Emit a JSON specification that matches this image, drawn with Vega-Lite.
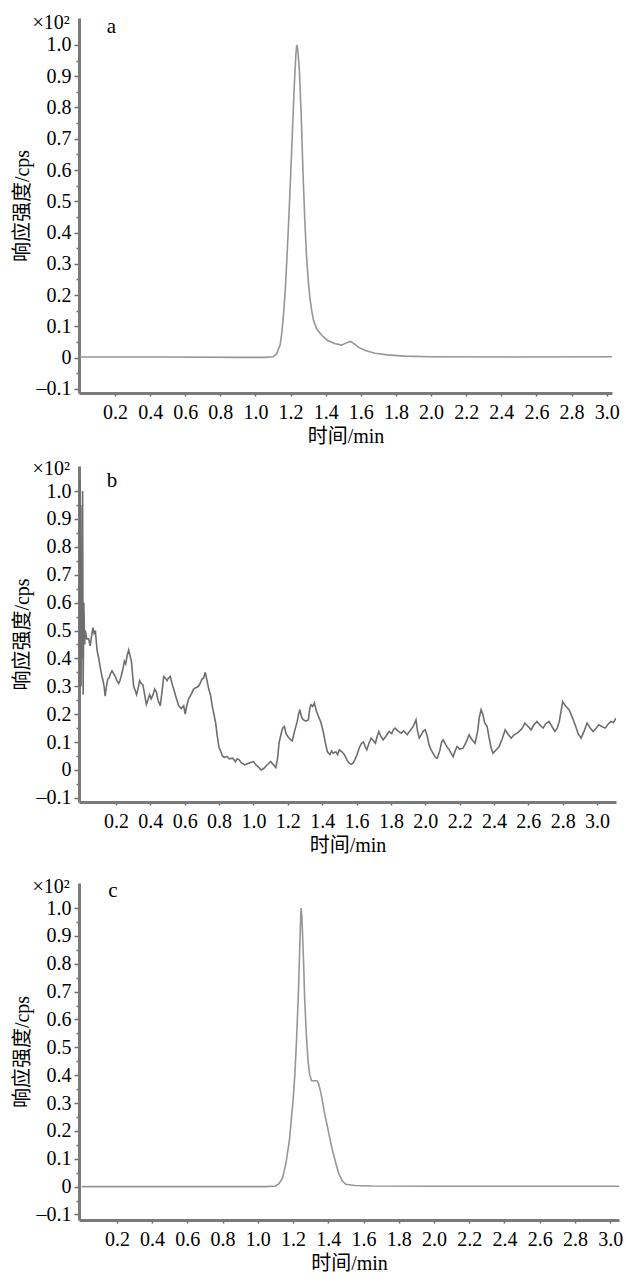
{
  "$schema": "https://vega.github.io/schema/vega-lite/v6.json",
  "padding": {"left": 12, "top": 13, "right": 0, "bottom": 0},
  "background": "white",
  "config": {
    "view": {"stroke": null},
    "axis": {
      "grid": false,
      "labelFont": "Liberation Serif",
      "labelFontSize": 20,
      "labelColor": "#000",
      "titleFont": "Liberation Serif, Noto Sans CJK SC",
      "titleFontSize": 20,
      "titleFontWeight": "normal",
      "titleColor": "#000",
      "domainColor": "#7a7a7a",
      "domainWidth": 3,
      "tickColor": "#6a6a6a",
      "tickWidth": 1.5
    },
    "axisX": {"tickSize": 3, "labelPadding": 6, "titlePadding": 4, "labelFlush": false},
    "axisY": {"labelPadding": 3, "titlePadding": 4}
  },
  "datasets": {
    "a": [
      {"t": 0, "r": 0.002}, {"t": 0.5, "r": 0.002}, {"t": 0.9, "r": 0.001}, {"t": 1.05, "r": 0.001},
      {"t": 1.1, "r": 0.003}, {"t": 1.12, "r": 0.012}, {"t": 1.14, "r": 0.04}, {"t": 1.15, "r": 0.08},
      {"t": 1.16, "r": 0.14}, {"t": 1.17, "r": 0.22}, {"t": 1.18, "r": 0.33}, {"t": 1.19, "r": 0.45},
      {"t": 1.2, "r": 0.58}, {"t": 1.21, "r": 0.72}, {"t": 1.22, "r": 0.86}, {"t": 1.23, "r": 0.97},
      {"t": 1.235, "r": 1.0}, {"t": 1.24, "r": 0.99}, {"t": 1.25, "r": 0.92}, {"t": 1.26, "r": 0.78},
      {"t": 1.27, "r": 0.6}, {"t": 1.28, "r": 0.45}, {"t": 1.29, "r": 0.33}, {"t": 1.3, "r": 0.25},
      {"t": 1.31, "r": 0.19}, {"t": 1.32, "r": 0.15}, {"t": 1.33, "r": 0.12}, {"t": 1.35, "r": 0.09},
      {"t": 1.38, "r": 0.07}, {"t": 1.41, "r": 0.055}, {"t": 1.45, "r": 0.045}, {"t": 1.49, "r": 0.04},
      {"t": 1.52, "r": 0.048}, {"t": 1.54, "r": 0.052}, {"t": 1.56, "r": 0.045}, {"t": 1.59, "r": 0.032},
      {"t": 1.63, "r": 0.022}, {"t": 1.68, "r": 0.014}, {"t": 1.75, "r": 0.009}, {"t": 1.85, "r": 0.005},
      {"t": 2.0, "r": 0.003}, {"t": 2.5, "r": 0.002}, {"t": 3.03, "r": 0.003}
    ],
    "b": [
      {"t": -0.012, "r": 0.3}, {"t": -0.01, "r": 1.04}, {"t": -0.008, "r": 0.35}, {"t": -0.005, "r": 0.95},
      {"t": -0.003, "r": 0.3}, {"t": 0.0, "r": 0.76}, {"t": 0.003, "r": 0.4}, {"t": 0.006, "r": 1.0},
      {"t": 0.009, "r": 0.27}, {"t": 0.013, "r": 0.6}, {"t": 0.018, "r": 0.45}, {"t": 0.022, "r": 0.5},
      {"t": 0.03, "r": 0.47}, {"t": 0.041, "r": 0.47}, {"t": 0.05, "r": 0.445}, {"t": 0.058, "r": 0.48},
      {"t": 0.066, "r": 0.51}, {"t": 0.073, "r": 0.49}, {"t": 0.08, "r": 0.5}, {"t": 0.09, "r": 0.43},
      {"t": 0.1, "r": 0.4}, {"t": 0.108, "r": 0.37}, {"t": 0.117, "r": 0.34}, {"t": 0.125, "r": 0.32},
      {"t": 0.131, "r": 0.3}, {"t": 0.137, "r": 0.265}, {"t": 0.145, "r": 0.3}, {"t": 0.152, "r": 0.325},
      {"t": 0.16, "r": 0.33}, {"t": 0.168, "r": 0.345}, {"t": 0.177, "r": 0.355}, {"t": 0.187, "r": 0.345},
      {"t": 0.196, "r": 0.335}, {"t": 0.206, "r": 0.32}, {"t": 0.216, "r": 0.31}, {"t": 0.223, "r": 0.32},
      {"t": 0.23, "r": 0.335}, {"t": 0.24, "r": 0.36}, {"t": 0.249, "r": 0.39}, {"t": 0.257, "r": 0.38},
      {"t": 0.265, "r": 0.41}, {"t": 0.274, "r": 0.43}, {"t": 0.282, "r": 0.41}, {"t": 0.29, "r": 0.39},
      {"t": 0.297, "r": 0.34}, {"t": 0.303, "r": 0.3}, {"t": 0.312, "r": 0.285}, {"t": 0.32, "r": 0.27},
      {"t": 0.328, "r": 0.29}, {"t": 0.338, "r": 0.32}, {"t": 0.347, "r": 0.31}, {"t": 0.357, "r": 0.305},
      {"t": 0.367, "r": 0.27}, {"t": 0.377, "r": 0.235}, {"t": 0.386, "r": 0.25}, {"t": 0.396, "r": 0.27},
      {"t": 0.405, "r": 0.255}, {"t": 0.416, "r": 0.27}, {"t": 0.425, "r": 0.29}, {"t": 0.435, "r": 0.28},
      {"t": 0.445, "r": 0.25}, {"t": 0.458, "r": 0.23}, {"t": 0.468, "r": 0.28}, {"t": 0.478, "r": 0.335},
      {"t": 0.487, "r": 0.33}, {"t": 0.497, "r": 0.32}, {"t": 0.506, "r": 0.33}, {"t": 0.516, "r": 0.335},
      {"t": 0.526, "r": 0.31}, {"t": 0.536, "r": 0.29}, {"t": 0.55, "r": 0.26}, {"t": 0.565, "r": 0.23},
      {"t": 0.58, "r": 0.22}, {"t": 0.594, "r": 0.23}, {"t": 0.603, "r": 0.2}, {"t": 0.612, "r": 0.23},
      {"t": 0.623, "r": 0.255}, {"t": 0.637, "r": 0.27}, {"t": 0.652, "r": 0.29}, {"t": 0.665, "r": 0.295},
      {"t": 0.68, "r": 0.3}, {"t": 0.69, "r": 0.31}, {"t": 0.7, "r": 0.325}, {"t": 0.71, "r": 0.33},
      {"t": 0.72, "r": 0.35}, {"t": 0.73, "r": 0.32}, {"t": 0.74, "r": 0.29}, {"t": 0.75, "r": 0.27},
      {"t": 0.76, "r": 0.23}, {"t": 0.77, "r": 0.2}, {"t": 0.78, "r": 0.17}, {"t": 0.79, "r": 0.12},
      {"t": 0.8, "r": 0.08}, {"t": 0.81, "r": 0.066}, {"t": 0.82, "r": 0.05}, {"t": 0.83, "r": 0.045},
      {"t": 0.847, "r": 0.048}, {"t": 0.86, "r": 0.04}, {"t": 0.88, "r": 0.042}, {"t": 0.895, "r": 0.03},
      {"t": 0.905, "r": 0.04}, {"t": 0.917, "r": 0.036}, {"t": 0.93, "r": 0.025}, {"t": 0.94, "r": 0.022},
      {"t": 0.95, "r": 0.018}, {"t": 0.965, "r": 0.022}, {"t": 0.98, "r": 0.026}, {"t": 1.0, "r": 0.03},
      {"t": 1.015, "r": 0.018}, {"t": 1.03, "r": 0.01}, {"t": 1.045, "r": 0.0}, {"t": 1.06, "r": 0.005},
      {"t": 1.075, "r": 0.015}, {"t": 1.09, "r": 0.024}, {"t": 1.1, "r": 0.03}, {"t": 1.115, "r": 0.02},
      {"t": 1.13, "r": 0.008}, {"t": 1.14, "r": 0.04}, {"t": 1.15, "r": 0.1}, {"t": 1.16, "r": 0.126},
      {"t": 1.17, "r": 0.15}, {"t": 1.18, "r": 0.156}, {"t": 1.19, "r": 0.13}, {"t": 1.2, "r": 0.12},
      {"t": 1.213, "r": 0.11}, {"t": 1.226, "r": 0.104}, {"t": 1.24, "r": 0.14}, {"t": 1.255, "r": 0.174},
      {"t": 1.263, "r": 0.2}, {"t": 1.27, "r": 0.216}, {"t": 1.28, "r": 0.19}, {"t": 1.29, "r": 0.18},
      {"t": 1.305, "r": 0.175}, {"t": 1.32, "r": 0.18}, {"t": 1.328, "r": 0.22}, {"t": 1.335, "r": 0.234},
      {"t": 1.345, "r": 0.228}, {"t": 1.355, "r": 0.24}, {"t": 1.367, "r": 0.21}, {"t": 1.38, "r": 0.19},
      {"t": 1.393, "r": 0.17}, {"t": 1.406, "r": 0.138}, {"t": 1.418, "r": 0.1}, {"t": 1.43, "r": 0.066},
      {"t": 1.445, "r": 0.055}, {"t": 1.455, "r": 0.068}, {"t": 1.464, "r": 0.06}, {"t": 1.48, "r": 0.065},
      {"t": 1.49, "r": 0.055}, {"t": 1.5, "r": 0.072}, {"t": 1.515, "r": 0.065}, {"t": 1.53, "r": 0.054},
      {"t": 1.545, "r": 0.035}, {"t": 1.557, "r": 0.024}, {"t": 1.57, "r": 0.02}, {"t": 1.58, "r": 0.025},
      {"t": 1.59, "r": 0.036}, {"t": 1.603, "r": 0.055}, {"t": 1.615, "r": 0.078}, {"t": 1.628, "r": 0.095},
      {"t": 1.64, "r": 0.1}, {"t": 1.65, "r": 0.085}, {"t": 1.66, "r": 0.072}, {"t": 1.672, "r": 0.095},
      {"t": 1.685, "r": 0.114}, {"t": 1.698, "r": 0.105}, {"t": 1.71, "r": 0.096}, {"t": 1.72, "r": 0.12},
      {"t": 1.73, "r": 0.138}, {"t": 1.742, "r": 0.12}, {"t": 1.755, "r": 0.108}, {"t": 1.77, "r": 0.12},
      {"t": 1.79, "r": 0.138}, {"t": 1.805, "r": 0.13}, {"t": 1.815, "r": 0.145}, {"t": 1.825, "r": 0.15},
      {"t": 1.84, "r": 0.14}, {"t": 1.86, "r": 0.132}, {"t": 1.875, "r": 0.14}, {"t": 1.895, "r": 0.126},
      {"t": 1.91, "r": 0.14}, {"t": 1.93, "r": 0.156}, {"t": 1.946, "r": 0.18}, {"t": 1.955, "r": 0.14},
      {"t": 1.965, "r": 0.114}, {"t": 1.98, "r": 0.13}, {"t": 1.99, "r": 0.14}, {"t": 2.0, "r": 0.144},
      {"t": 2.012, "r": 0.12}, {"t": 2.022, "r": 0.09}, {"t": 2.034, "r": 0.072}, {"t": 2.05, "r": 0.055},
      {"t": 2.06, "r": 0.045}, {"t": 2.07, "r": 0.042}, {"t": 2.085, "r": 0.07}, {"t": 2.095, "r": 0.1},
      {"t": 2.104, "r": 0.108}, {"t": 2.12, "r": 0.09}, {"t": 2.13, "r": 0.08}, {"t": 2.14, "r": 0.072},
      {"t": 2.15, "r": 0.06}, {"t": 2.162, "r": 0.048}, {"t": 2.175, "r": 0.07}, {"t": 2.185, "r": 0.084},
      {"t": 2.2, "r": 0.075}, {"t": 2.22, "r": 0.078}, {"t": 2.238, "r": 0.1}, {"t": 2.255, "r": 0.126},
      {"t": 2.27, "r": 0.11}, {"t": 2.29, "r": 0.096}, {"t": 2.305, "r": 0.14}, {"t": 2.315, "r": 0.19},
      {"t": 2.325, "r": 0.216}, {"t": 2.335, "r": 0.2}, {"t": 2.345, "r": 0.17}, {"t": 2.36, "r": 0.156},
      {"t": 2.37, "r": 0.12}, {"t": 2.383, "r": 0.08}, {"t": 2.394, "r": 0.06}, {"t": 2.41, "r": 0.07},
      {"t": 2.43, "r": 0.084}, {"t": 2.447, "r": 0.11}, {"t": 2.465, "r": 0.144}, {"t": 2.48, "r": 0.13},
      {"t": 2.5, "r": 0.114}, {"t": 2.515, "r": 0.125}, {"t": 2.535, "r": 0.132}, {"t": 2.55, "r": 0.14},
      {"t": 2.565, "r": 0.15}, {"t": 2.58, "r": 0.168}, {"t": 2.6, "r": 0.155}, {"t": 2.616, "r": 0.144},
      {"t": 2.63, "r": 0.16}, {"t": 2.65, "r": 0.174}, {"t": 2.668, "r": 0.16}, {"t": 2.686, "r": 0.15},
      {"t": 2.7, "r": 0.165}, {"t": 2.72, "r": 0.174}, {"t": 2.738, "r": 0.155}, {"t": 2.755, "r": 0.138},
      {"t": 2.768, "r": 0.15}, {"t": 2.78, "r": 0.174}, {"t": 2.79, "r": 0.21}, {"t": 2.8, "r": 0.245},
      {"t": 2.815, "r": 0.23}, {"t": 2.837, "r": 0.216}, {"t": 2.855, "r": 0.19}, {"t": 2.872, "r": 0.162},
      {"t": 2.89, "r": 0.13}, {"t": 2.907, "r": 0.114}, {"t": 2.925, "r": 0.14}, {"t": 2.942, "r": 0.168},
      {"t": 2.96, "r": 0.15}, {"t": 2.977, "r": 0.138}, {"t": 2.995, "r": 0.15}, {"t": 3.01, "r": 0.162},
      {"t": 3.03, "r": 0.155}, {"t": 3.047, "r": 0.15}, {"t": 3.065, "r": 0.165}, {"t": 3.08, "r": 0.174},
      {"t": 3.095, "r": 0.17}, {"t": 3.11, "r": 0.186}
    ],
    "c": [
      {"t": 0, "r": 0.0}, {"t": 1.05, "r": 0.0}, {"t": 1.1, "r": 0.002}, {"t": 1.12, "r": 0.01},
      {"t": 1.14, "r": 0.03}, {"t": 1.16, "r": 0.085}, {"t": 1.18, "r": 0.17}, {"t": 1.2, "r": 0.31},
      {"t": 1.21, "r": 0.4}, {"t": 1.22, "r": 0.53}, {"t": 1.23, "r": 0.69}, {"t": 1.24, "r": 0.9},
      {"t": 1.245, "r": 1.0}, {"t": 1.25, "r": 0.97}, {"t": 1.26, "r": 0.8}, {"t": 1.265, "r": 0.69},
      {"t": 1.275, "r": 0.55}, {"t": 1.285, "r": 0.45}, {"t": 1.295, "r": 0.4}, {"t": 1.305, "r": 0.38},
      {"t": 1.32, "r": 0.38}, {"t": 1.335, "r": 0.38}, {"t": 1.345, "r": 0.37}, {"t": 1.36, "r": 0.33},
      {"t": 1.38, "r": 0.26}, {"t": 1.4, "r": 0.2}, {"t": 1.42, "r": 0.14}, {"t": 1.44, "r": 0.09},
      {"t": 1.46, "r": 0.045}, {"t": 1.48, "r": 0.02}, {"t": 1.5, "r": 0.008}, {"t": 1.55, "r": 0.004},
      {"t": 1.65, "r": 0.002}, {"t": 2.0, "r": 0.001}, {"t": 3.05, "r": 0.001}
    ]
  },
  "spacing": 13,
  "vconcat": [
    {
      "width": 533,
      "height": 375,
      "layer": [
        {
          "data": {"name": "a"},
          "mark": {"type": "line", "color": "#969696", "strokeWidth": 1.6, "clip": true},
          "encoding": {
            "x": {"field": "t", "type": "quantitative",
              "scale": {"domain": [-0.005, 3.03], "nice": false, "zero": false},
              "axis": {"title": "时间/min", "labelOverlap": false, "tickCount": 200, "values": [0.2,0.4,0.6,0.8,1.0,1.2,1.4,1.6,1.8,2.0,2.2,2.4,2.6,2.8,3.0], "format": ".1f"}},
            "y": {"field": "r", "type": "quantitative",
              "scale": {"domain": [-0.113, 1.086], "nice": false, "zero": false},
              "axis": {"title": "响应强度/cps", "labelOverlap": false, "tickCount": 200,
                "values": [-0.1,-0.05,0,0.05,0.1,0.15,0.2,0.25,0.3,0.35,0.4,0.45,0.5,0.55,0.6,0.65,0.7,0.75,0.8,0.85,0.9,0.95,1.0],
                "tickSize": {"condition": {"test": "abs(round(datum.value*20)) % 2 == 1", "value": 3}, "value": 5},
                "labelExpr": "abs(round(datum.value*20)) % 2 == 1 ? '' : (datum.value < -0.01 ? '–0.1' : (abs(datum.value) < 0.01 ? '0' : format(datum.value, '.1f')))"}}
          }
        },
        {
          "data": {"values": [{}]},
          "mark": {"type": "text", "text": "a", "font": "Liberation Serif", "fontSize": 21, "baseline": "middle", "align": "center"},
          "encoding": {"x": {"datum": 0.18, "type": "quantitative", "axis": {"labelOverlap": false, "tickCount": 200}}, "y": {"datum": 1.057, "type": "quantitative", "axis": {"labelOverlap": false, "tickCount": 200}}}
        },
        {
          "data": {"values": [{}]},
          "mark": {"type": "text", "text": "×10²", "font": "Liberation Serif", "fontSize": 20, "baseline": "middle", "align": "right"},
          "encoding": {"x": {"datum": -0.057, "type": "quantitative", "axis": {"labelOverlap": false, "tickCount": 200}}, "y": {"datum": 1.07, "type": "quantitative", "axis": {"labelOverlap": false, "tickCount": 200}}}
        }
      ]
    },
    {
      "spacing": 22,
      "vconcat": [
        {
          "width": 537,
          "height": 336,
          "layer": [
            {
              "data": {"name": "b"},
              "mark": {"type": "line", "color": "#6e6e6e", "strokeWidth": 1.6, "clip": true},
              "encoding": {
                "x": {"field": "t", "type": "quantitative",
                  "scale": {"domain": [-0.015, 3.11], "nice": false, "zero": false},
                  "axis": {"title": "时间/min", "labelOverlap": false, "tickCount": 200, "values": [0.2,0.4,0.6,0.8,1.0,1.2,1.4,1.6,1.8,2.0,2.2,2.4,2.6,2.8,3.0], "format": ".1f"}},
                "y": {"field": "r", "type": "quantitative",
                  "scale": {"domain": [-0.115, 1.09], "nice": false, "zero": false},
                  "axis": {"title": "响应强度/cps", "labelOverlap": false, "tickCount": 200,
                    "values": [-0.1,-0.05,0,0.05,0.1,0.15,0.2,0.25,0.3,0.35,0.4,0.45,0.5,0.55,0.6,0.65,0.7,0.75,0.8,0.85,0.9,0.95,1.0],
                    "tickSize": {"condition": {"test": "abs(round(datum.value*20)) % 2 == 1", "value": 3}, "value": 5},
                    "labelExpr": "abs(round(datum.value*20)) % 2 == 1 ? '' : (datum.value < -0.01 ? '–0.1' : (abs(datum.value) < 0.01 ? '0' : format(datum.value, '.1f')))"}}
              }
            },
            {
              "data": {"values": [{}]},
              "mark": {"type": "text", "text": "b", "font": "Liberation Serif", "fontSize": 21, "baseline": "middle", "align": "center"},
              "encoding": {"x": {"datum": 0.177, "type": "quantitative", "axis": {"labelOverlap": false, "tickCount": 200}}, "y": {"datum": 1.036, "type": "quantitative", "axis": {"labelOverlap": false, "tickCount": 200}}}
            },
            {
              "data": {"values": [{}]},
              "mark": {"type": "text", "text": "×10²", "font": "Liberation Serif", "fontSize": 20, "baseline": "middle", "align": "right"},
              "encoding": {"x": {"datum": -0.068, "type": "quantitative", "axis": {"labelOverlap": false, "tickCount": 200}}, "y": {"datum": 1.079, "type": "quantitative", "axis": {"labelOverlap": false, "tickCount": 200}}}
            }
          ]
        },
        {
          "width": 540,
          "height": 337,
          "layer": [
            {
              "data": {"name": "c"},
              "mark": {"type": "line", "color": "#969696", "strokeWidth": 1.6, "clip": true},
              "encoding": {
                "x": {"field": "t", "type": "quantitative",
                  "scale": {"domain": [-0.015, 3.05], "nice": false, "zero": false},
                  "axis": {"title": "时间/min", "labelOverlap": false, "tickCount": 200, "values": [0.2,0.4,0.6,0.8,1.0,1.2,1.4,1.6,1.8,2.0,2.2,2.4,2.6,2.8,3.0], "format": ".1f"}},
                "y": {"field": "r", "type": "quantitative",
                  "scale": {"domain": [-0.12, 1.09], "nice": false, "zero": false},
                  "axis": {"title": "响应强度/cps", "labelOverlap": false, "tickCount": 200,
                    "values": [-0.1,-0.05,0,0.05,0.1,0.15,0.2,0.25,0.3,0.35,0.4,0.45,0.5,0.55,0.6,0.65,0.7,0.75,0.8,0.85,0.9,0.95,1.0],
                    "tickSize": {"condition": {"test": "abs(round(datum.value*20)) % 2 == 1", "value": 3}, "value": 5},
                    "labelExpr": "abs(round(datum.value*20)) % 2 == 1 ? '' : (datum.value < -0.01 ? '–0.1' : (abs(datum.value) < 0.01 ? '0' : format(datum.value, '.1f')))"}}
              }
            },
            {
              "data": {"values": [{}]},
              "mark": {"type": "text", "text": "c", "font": "Liberation Serif", "fontSize": 21, "baseline": "middle", "align": "center"},
              "encoding": {"x": {"datum": 0.177, "type": "quantitative", "axis": {"labelOverlap": false, "tickCount": 200}}, "y": {"datum": 1.06, "type": "quantitative", "axis": {"labelOverlap": false, "tickCount": 200}}}
            },
            {
              "data": {"values": [{}]},
              "mark": {"type": "text", "text": "×10²", "font": "Liberation Serif", "fontSize": 20, "baseline": "middle", "align": "right"},
              "encoding": {"x": {"datum": -0.067, "type": "quantitative", "axis": {"labelOverlap": false, "tickCount": 200}}, "y": {"datum": 1.075, "type": "quantitative", "axis": {"labelOverlap": false, "tickCount": 200}}}
            }
          ]
        }
      ]
    }
  ]
}
